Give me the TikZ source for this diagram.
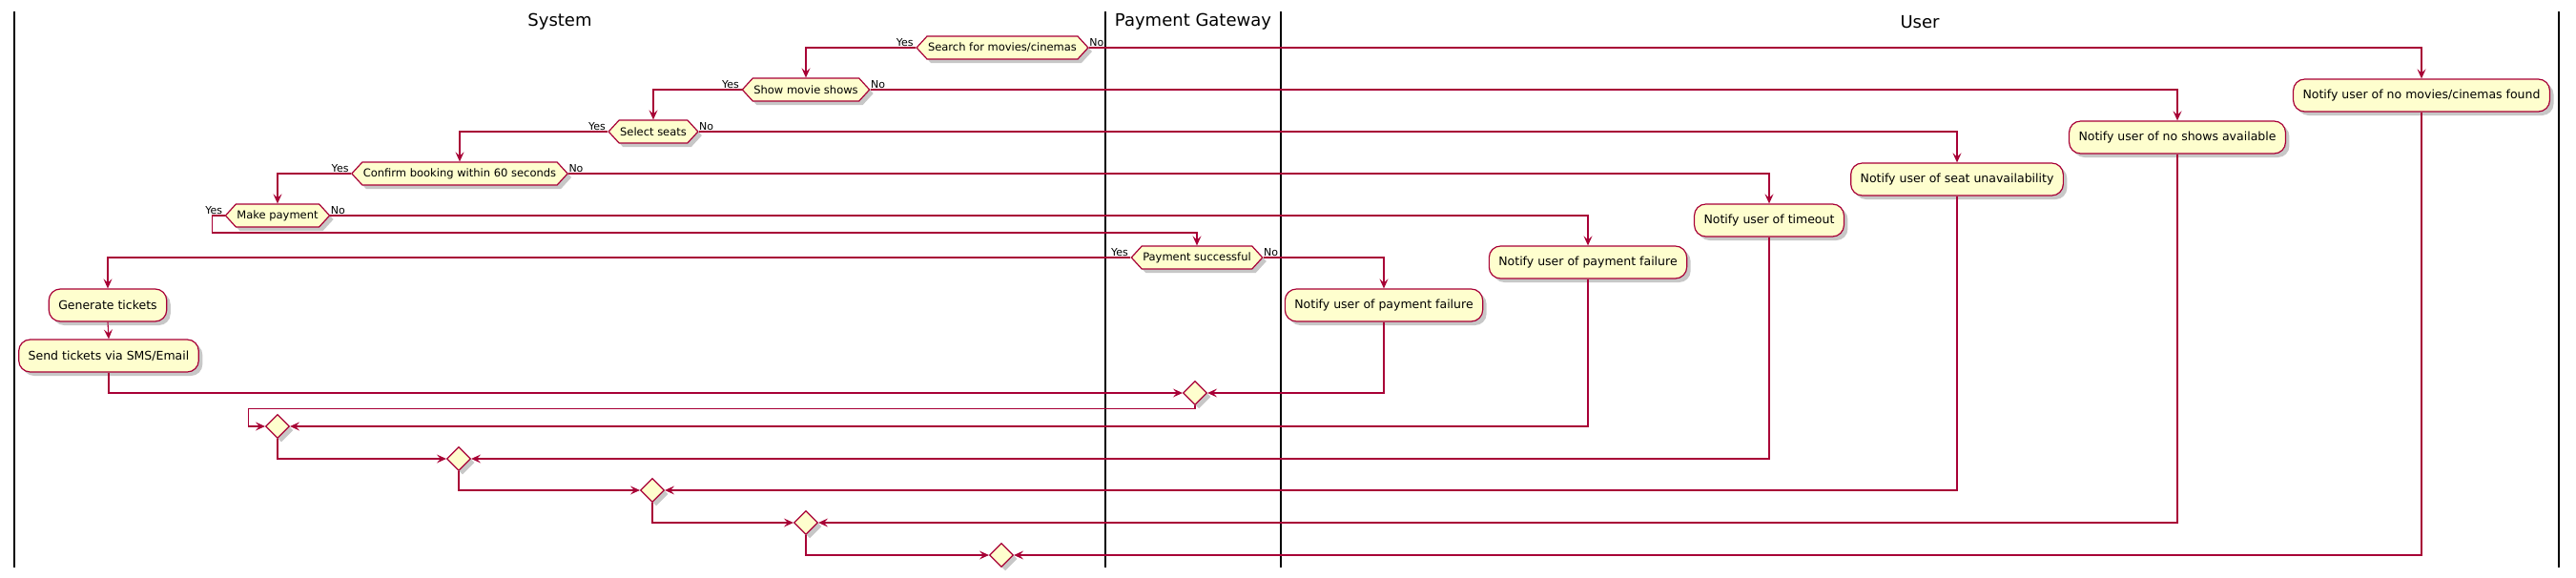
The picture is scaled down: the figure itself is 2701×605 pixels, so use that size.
\documentclass[tikz,border=0pt]{standalone}
\usepackage{fontspec}
\setmainfont{DejaVu Sans}
\usetikzlibrary{arrows.meta,shapes.geometric,shapes.symbols,shadows,calc}
\definecolor{pcr}{HTML}{A80036}
\definecolor{pfill}{HTML}{FEFECE}
\begin{document}
\begin{tikzpicture}[x=1pt,y=-1pt,
  shd/.style={drop shadow={shadow xshift=4pt, shadow yshift=-4pt, opacity=0.22, fill=black}},
  act/.style={shd, draw=pcr, fill=pfill, line width=1.2pt, rounded corners=12pt, inner xsep=10pt, inner ysep=0pt, minimum height=34pt, font=\fontsize{12.5}{15}\selectfont},
  dec/.style={shd, shape=signal, signal to=west and east, signal pointer angle=95, draw=pcr, fill=pfill, line width=1.2pt, inner xsep=1pt, inner ysep=0pt, minimum height=24pt, font=\fontsize{11.5}{13}\selectfont},
  mrg/.style={shd, diamond, aspect=1, draw=pcr, fill=pfill, line width=1.2pt, inner sep=0pt, minimum width=25pt, minimum height=25pt},
  con/.style={draw=pcr, line width=1.1pt, -{Stealth[length=10pt,width=9pt,inset=4pt]}},
  lbl/.style={font=\fontsize{11}{13}\selectfont, inner sep=0pt, text=black},
  lane/.style={draw=black, line width=1.5pt},
  ttl/.style={font=\fontsize{18}{21}\selectfont, inner sep=0pt}
]
\useasboundingbox (0,0) rectangle (2701,605);
\fill[white] (0,0) rectangle (2701,605);
% lanes
\draw[lane] (15,12) -- (15,595);
\draw[lane] (1159,12) -- (1159,595);
\draw[lane] (1343,12) -- (1343,595);
\draw[lane] (2683,12) -- (2683,595);
\node[ttl] (tsys) at (587,23) {System};
\node[ttl] (tpay) at (1251,23) {Payment Gateway};
\node[ttl] (tusr) at (2013,23) {User};
% activities
\node[act] (nm) at (2539,100) {Notify user of no movies/cinemas found};
\node[act] (ns) at (2283,144) {Notify user of no shows available};
\node[act] (su) at (2052,188) {Notify user of seat unavailability};
\node[act] (to) at (1855,231) {Notify user of timeout};
\node[act] (pf2) at (1665,275) {Notify user of payment failure};
\node[act] (pf1) at (1451,320) {Notify user of payment failure};
\node[act] (gt) at (113,320) {Generate tickets};
\node[act] (st) at (114,373) {Send tickets via SMS/Email};
% decisions
\node[dec] (d1) at (1051,50) {Search for movies/cinemas};
\node[dec] (d2) at (845,94) {Show movie shows};
\node[dec] (d3) at (685,138) {Select seats};
\node[dec] (d4) at (482,182) {Confirm booking within 60 seconds};
\node[dec] (d5) at (291,226) {Make payment};
\node[dec] (d6) at (1255,270) {Payment successful};
% merges
\node[mrg] (m1) at (1253,412) {};
\node[mrg] (m2) at (291,447) {};
\node[mrg] (m3) at (481,481) {};
\node[mrg] (m4) at (684,514) {};
\node[mrg] (m5) at (845,548) {};
\node[mrg] (m6) at (1050,582) {};
% branches
\draw[con] (d1.west) node[lbl,anchor=south east,xshift=-2pt,yshift=1pt]{Yes} -| (d2.north);
\draw[con] (d1.east) node[lbl,anchor=south west,xshift=0pt,yshift=1pt]{No} -| (nm.north);
\draw[con] (d2.west) node[lbl,anchor=south east,xshift=-2pt,yshift=1pt]{Yes} -| (d3.north);
\draw[con] (d2.east) node[lbl,anchor=south west,xshift=0pt,yshift=1pt]{No} -| (ns.north);
\draw[con] (d3.west) node[lbl,anchor=south east,xshift=-2pt,yshift=1pt]{Yes} -| (d4.north);
\draw[con] (d3.east) node[lbl,anchor=south west,xshift=0pt,yshift=1pt]{No} -| (su.north);
\draw[con] (d4.west) node[lbl,anchor=south east,xshift=-2pt,yshift=1pt]{Yes} -| (d5.north);
\draw[con] (d4.east) node[lbl,anchor=south west,xshift=0pt,yshift=1pt]{No} -| (to.north);
\draw[con] (d5.west) node[lbl,anchor=south east,xshift=-2pt,yshift=1pt]{Yes} -- ++(-13,0) -- ++(0,18) -| (d6.north);
\draw[con] (d5.east) node[lbl,anchor=south west,xshift=0pt,yshift=1pt]{No} -| (pf2.north);
\draw[con] (d6.west) node[lbl,anchor=south east,xshift=-2pt,yshift=1pt]{Yes} -| (gt.north);
\draw[con] (d6.east) node[lbl,anchor=south west,xshift=0pt,yshift=1pt]{No} -| (pf1.north);
\draw[con] (gt.south) -- (st.north);
% merges
\draw[con] (st.south) |- (m1.west);
\draw[con] (pf1.south) |- (m1.east);
\draw[con] (m1.south) -- ++(0,3) -| ([xshift=-17pt]m2.west) -- (m2.west);
\draw[con] (pf2.south) |- (m2.east);
\draw[con] (m2.south) |- (m3.west);
\draw[con] (to.south) |- (m3.east);
\draw[con] (m3.south) |- (m4.west);
\draw[con] (su.south) |- (m4.east);
\draw[con] (m4.south) |- (m5.west);
\draw[con] (ns.south) |- (m5.east);
\draw[con] (m5.south) |- (m6.west);
\draw[con] (nm.south) |- (m6.east);
\end{tikzpicture}
\end{document}
